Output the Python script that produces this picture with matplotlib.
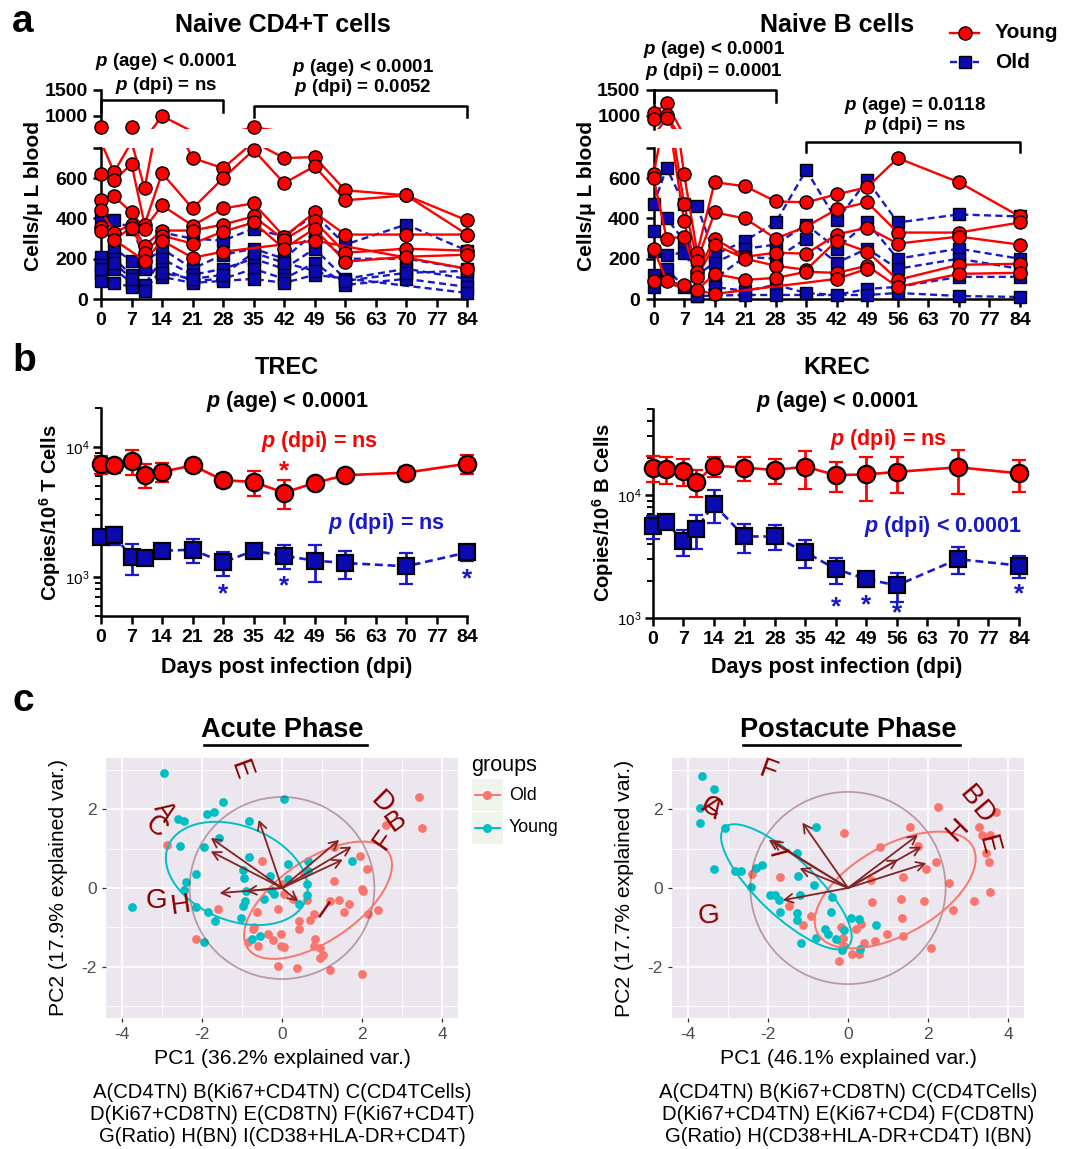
import numpy as np
import matplotlib.pyplot as plt
from matplotlib.patches import Ellipse, Rectangle
from matplotlib.lines import Line2D
from matplotlib.transforms import blended_transform_factory

plt.rcParams['font.family'] = ['Liberation Sans', 'DejaVu Sans']
plt.rcParams['mathtext.fontset'] = 'custom'
plt.rcParams['mathtext.rm'] = 'Liberation Sans'
plt.rcParams['mathtext.it'] = 'Liberation Sans:italic'
plt.rcParams['mathtext.bf'] = 'Liberation Sans:bold'
plt.rcParams['mathtext.bfit'] = 'Liberation Sans:italic:bold'
plt.rcParams['axes.unicode_minus'] = False

nan = np.nan
days = [0, 3, 7, 10, 14, 21, 28, 35, 42, 49, 56, 70, 84]
day_ticks = list(range(0, 85, 7))

# panel a: individual animals (cells/uL blood)
cd4_young = [
    [780, 630, 780, 550, 1000, 700, 650, 780, 700, 705, 540, 515, 390],
    [620, 590, 670, 370, 625, 450, 600, 740, 575, 660, 490, 515, 320],
    [490, 510, 430, 350, 465, 365, 450, 475, 310, 430, 320, 320, 320],
    [440, 330, 370, 265, 340, 340, 370, 410, 295, 385, 230, 250, 240],
    [360, 295, 355, 230, 315, 275, 335, 380, 250, 350, 185, 210, 220],
    [340, nan, nan, 190, 290, 205, 235, nan, nan, 290, nan, nan, 150],
]
cd4_old = [
    [400, 390, 350, 210, 330, 300, 290, 350, 310, 420, 270, 370, 240],
    [210, 250, 190, 180, 250, 150, 220, 250, 200, 330, 200, 200, 150],
    [170, 200, 120, 70, 200, 120, 150, 200, 150, 250, 100, 150, 100],
    [130, 150, 80, 40, 150, 90, 100, 150, 100, 180, 70, 100, 60],
    [90, 80, 60, nan, 110, 80, 90, 100, 80, 120, nan, nan, 30],
    [150, 180, 100, 150, 130, 100, 120, 230, 180, 140, 90, 130, 140],
]
b_young = [
    [1050, 1250, 620, 230, 580, 560, 485, 480, 520, 555, 700, 580, 410],
    [950, 1020, 470, 190, 430, 400, 300, 360, 445, 480, 330, 330, 380],
    [620, 960, 385, 135, 300, 210, 230, 225, 320, 355, 275, 310, 270],
    [600, 300, 310, 110, 270, 200, 165, 145, 290, 235, 95, 170, 175],
    [250, 90, 70, 45, 125, 95, 105, 135, 130, 165, 60, 125, 130],
    [90, nan, nan, nan, 25, nan, nan, nan, 100, 150, nan, nan, nan],
]
b_old = [
    [470, 650, 470, 460, 220, 290, 380, 640, 390, 590, 380, 420, 410],
    [340, 400, 290, 120, 180, 250, 270, 370, 250, 380, 200, 250, 200],
    [240, 220, 230, 120, 100, 210, 200, 300, 180, 250, 150, 200, 150],
    [120, 150, 60, 15, 60, 40, 70, 30, 20, 50, 60, 110, 110],
    [60, 100, nan, 15, nan, 20, 20, nan, nan, 20, 30, 15, 10],
]

# panel b: means and SEM (copies / 10^6 cells)
trec_young = [7360, 7230, 7770, 6140, 6440, 7230, 5560, 5390, 4450, 5300, 6070, 6360, 7450]
trec_young_err = [1200, 900, 1700, 1300, 1100, 300, 600, 1200, 1100, 300, 300, 700, 1300]
trec_old = [2015, 2085, 1420, 1405, 1590, 1620, 1295, 1590, 1455, 1335, 1280, 1207, 1545]
trec_old_err = [150, 320, 380, 100, 120, 330, 270, 120, 300, 420, 310, 330, 230]
krec_young = [16700, 16250, 15750, 12800, 17300, 16700, 15950, 17000, 14500, 14700, 15400, 16800, 15000]
krec_young_err = [4000, 4000, 4000, 3200, 3200, 3800, 3700, 5800, 4000, 5800, 5100, 6600, 4400]
krec_old = [5610, 6080, 4190, 5270, 8400, 4600, 4600, 3430, 2500, 2070, 1840, 3010, 2670]
krec_old_err = [1200, 800, 1000, 1600, 2500, 1200, 1050, 870, 600, 300, 500, 750, 540]
trec_star_young = ([42], [6540])
trec_star_old = ([28, 42, 84], [740, 840, 950])
krec_star_old = ([42, 49, 56, 84], [1230, 1270, 1100, 1570])

# panel c: PCA scores
acute_young_x = [-2.94, 0.06, -1.47, -1.71, -1.87, -2.59, -2.45, -0.82, -1.57, -2.54, -1.94, -0.83, 0.16,
                 0.64, 1.74, -0.98, -2.14, -0.94, -0.31, 0.16, 0.64, -2.41, -2.45, 0.62, -0.27, -0.20, -0.89,
                 0.62, -0.46, -0.92, -0.98, 0.43, -3.76, -2.16, -1.85, -1.03, -1.68, -0.76, -0.54, -1.96]
acute_young_y = [2.93, 2.25, 2.19, 1.94, 1.88, 1.75, 1.69, 1.71, 1.27, 1.07, 1.04, 0.78, 0.61,
                 0.68, 0.68, 0.46, 0.36, 0.25, 0.31, 0.23, 0.44, 0.14, -0.04, 0.10, -0.04, -0.14, -0.08,
                 -0.17, -0.27, -0.34, -0.45, -0.41, -0.49, -0.49, -0.61, -0.76, -0.84, -1.29, -1.21, -1.38]
acute_old_x = [3.43, 2.59, 3.51, -2.87, 1.29, 1.94, -0.49, 2.12, 0.54, 1.29, 0.00, 2.01, 2.03, 0.04, 0.27,
               0.62, 1.20, 1.43, 1.68, -1.61, -0.09, -0.62, 1.56, 2.39, 2.14, 0.79, 0.71, 0.42, -0.70, -0.73,
               0.42, -0.36, -0.02, -0.85, -0.61, -0.22, -0.02, 0.06, 0.83, 0.80, 0.96, 0.94, 1.03, -2.16,
               -0.11, 0.37, 1.20, 2.01]
acute_old_y = [2.32, 1.60, 1.53, 1.10, 1.05, 0.80, 0.68, 0.48, 0.35, 0.19, 0.10, -0.03, -0.08, -0.14, -0.28,
               -0.31, -0.32, -0.30, -0.41, -0.53, -0.53, -0.62, -0.62, -0.57, -0.65, -0.65, -0.80, -0.83,
               -0.99, -1.04, -1.05, -1.18, -1.18, -1.38, -1.46, -1.32, -1.46, -1.49, -1.29, -1.48, -1.52,
               -1.77, -1.69, -1.29, -1.97, -2.03, -2.07, -2.19]
post_young_x = [-3.65, -3.36, -3.69, -3.71, -3.07, -0.79, -3.36, -1.27, -2.15, -2.29, -2.83, -2.67, -1.25,
                -0.86, -2.43, -1.94, -1.83, -1.73, -1.21, -0.39, -1.69, -1.27, -1.27, -0.42, 0.08, 0.27,
                0.71, -0.58, -0.50, -0.11, -0.79, -0.29, -1.17, -0.14, 0.29]
post_young_y = [2.84, 2.51, 2.03, 1.66, 1.52, 1.54, 0.48, 0.89, 0.59, 0.51, 0.44, 0.42, 0.30,
                0.08, 0.03, -0.17, -0.19, -0.30, -0.17, -0.23, -0.62, -0.63, -0.82, -0.62, -0.76, -0.79,
                -0.95, -1.04, -1.16, -1.07, -1.27, -1.29, -1.39, -1.58, -1.54]
post_old_x = [2.25, 3.71, 1.54, 3.28, 3.36, 3.54, -0.10, 1.75, 0.79, 3.46, 1.94, 2.21, 3.53, -2.39, -1.69,
              1.38, 0.58, 2.53, 3.56, 1.33, 1.90, 0.60, 3.15, -1.48, 2.63, 1.35, -0.93, -1.13, 0.33, -0.17,
              0.19, -0.13, -0.17, 1.38, 0.98, 0.67, 0.39, -0.11, 0.11, 0.27, -0.23, 2.07]
post_old_y = [2.06, 1.92, 1.54, 1.54, 1.35, 1.35, 1.39, 1.07, 1.04, 0.90, 0.49, 0.65, 0.65, 0.35, 0.27,
              0.27, 0.21, 0.13, -0.10, -0.28, -0.34, -0.35, -0.34, -0.46, -0.56, -0.76, -0.70, -0.95,
              -0.91, -0.99, -1.05, -1.26, -1.35, -1.21, -1.18, -1.35, -1.39, -1.47, -1.68, -1.67, -1.85, -1.53]

# loadings (arrow ends), variable letters and where the letters sit
acute_vars = ['A', 'C', 'E', 'D', 'B', 'F', 'G', 'H', 'I']
acute_load_x = [-1.78, -1.78, -0.58, 1.43, 1.74, 1.52, -1.56, -0.89, 0.40]
acute_load_y = [1.27, 0.93, 1.73, 1.22, 1.05, 0.72, -0.13, -0.08, -0.34]
acute_lab_x = [-2.95, -3.15, -1.05, 2.50, 2.85, 2.54, -3.14, -2.54, 0.98]
acute_lab_y = [1.95, 1.55, 3.00, 2.15, 1.69, 1.22, -0.34, -0.45, -0.62]
acute_lab_rot = [-55, -40, -70, -45, 35, 55, 0, 8, -35]
post_vars = ['F', 'A', 'C', 'I', 'G', 'B', 'D', 'H', 'E']
post_load_x = [-1.14, -1.98, -1.90, -1.21, -1.63, 1.75, 1.83, 1.25, 1.96]
post_load_y = [1.66, 1.22, 1.20, 0.50, -0.31, 1.35, 1.05, 0.72, 0.63]
post_lab_x = [-2.00, -3.42, -3.42, -1.83, -3.48, 3.04, 3.37, 2.75, 3.50]
post_lab_y = [2.95, 2.02, 2.02, 0.85, -0.72, 2.32, 1.90, 1.48, 1.10]
post_lab_rot = [-20, -35, -30, -75, 5, -50, -50, 45, -75]
# ellipses: centre x, centre y, width, height, angle
acute_ell_young = (-1.13, 0.37, 3.7, 2.4, -22)
acute_ell_old = (0.90, -0.31, 4.28, 2.06, 35)
post_ell_young = (-1.54, 0.03, 4.32, 1.45, -44)
post_ell_old = (1.18, -0.05, 4.46, 2.25, 30)

W, H = 1075, 1149
fig = plt.figure(figsize=(W / 100, H / 100), dpi=100)

RED = '#FF0000'
BLUE_L = '#1818CC'
BLUE_F = '#0A0AB0'
PPD = 4.36


def rect(l, t, r, b):
    return [l / W, 1 - b / H, (r - l) / W, (b - t) / H]


def fy(y):
    return 1 - y / H


def ptext(line):
    return r'$\mathbfit{p}$ ' + line


def style_gp(ax, xt=True):
    ax.spines['top'].set_visible(False)
    ax.spines['right'].set_visible(False)
    ax.spines['left'].set_position(('data', 0))
    ax.spines['left'].set_linewidth(1.8)
    ax.spines['bottom'].set_linewidth(1.8)
    ax.tick_params(direction='out', length=6, width=1.8, labelsize=14)
    if xt:
        ax.spines['bottom'].set_bounds(0, 84)
        ax.set_xticks(day_ticks, [str(d) for d in day_ticks], fontweight='bold', fontsize=14)
    else:
        ax.spines['bottom'].set_visible(False)
        ax.set_xticks([])


def naive_panel(x0, young, old, title, title_x, ylab_x, brackets):
    l, r = x0 - 2.5 * PPD, x0 + 86.5 * PPD
    hi = fig.add_axes(rect(l, 90, r, 129))
    lo = fig.add_axes(rect(l, 148, r, 299))
    for ax in (hi, lo):
        ax.set_xlim(-2.5, 86.5)
        ax.patch.set_alpha(0)
    hi.set_ylim(750, 1500)
    lo.set_ylim(0, 750)
    d = np.array(days)
    groups = [(old, BLUE_L, (0, (3, 1.8)), 's', BLUE_F, 8.5, 2),
              (young, RED, '-', 'o', RED, 9.5, 4)]
    for series, col, ls, mk, fc, ms, z in groups:
        for vals in series:
            v = np.array(vals, float)
            m = ~np.isnan(v)
            x, y = d[m], v[m]
            for ax in (hi, lo):
                ax.plot(x, y, color=col, lw=1.7, ls=ls, zorder=z)
            low = y <= 750
            lo.plot(x[low], y[low], ls='none', marker=mk, ms=ms, mfc=fc, mec='black',
                    mew=1.0, clip_on=False, zorder=z + 1)
            hi.plot(x[~low], y[~low], ls='none', marker=mk, ms=ms, mfc=fc, mec='black',
                    mew=1.0, clip_on=False, zorder=z + 1)
    style_gp(lo)
    style_gp(hi, xt=False)
    lo.set_yticks([0, 200, 400, 600, 750], ['0', '200', '400', '600', ''],
                  fontweight='bold', fontsize=14)
    hi.set_yticks([1000, 1500], ['1000', '1500'], fontweight='bold', fontsize=14)
    fig.text(title_x / W, fy(25), title, ha='center', va='center', fontsize=18, weight='bold')
    fig.text(ylab_x / W, fy(196), 'Cells/μ L blood', rotation=90, ha='center', va='center',
             fontsize=15, weight='bold')
    tr = blended_transform_factory(lo.transData, fig.transFigure)
    for x1, x2, ytop, ybot, tx, ty1, ty2, s1, s2 in brackets:
        fig.add_artist(Line2D([x1, x1, x2, x2], [fy(ybot), fy(ytop), fy(ytop), fy(ybot)],
                              transform=tr, color='black', lw=1.8))
        fig.text(tx, fy(ty1), ptext(s1), transform=tr, ha='center', va='center',
                 fontsize=13.5, weight='bold')
        fig.text(tx, fy(ty2), ptext(s2), transform=tr, ha='center', va='center',
                 fontsize=13.5, weight='bold')
    return lo


naive_panel(101, cd4_young, cd4_old, 'Naive CD4+T cells', 283, 34,
            [(0, 28, 100, 112, 15, 62, 85, '(age) < 0.0001', '(dpi) = ns'),
             (35, 84, 106, 117, 60, 67, 88, '(age) < 0.0001', '(dpi) = 0.0052')])
naive_panel(653.6, b_young, b_old, 'Naive B cells', 837, 587,
            [(0, 28, 90, 102, 13.8, 50, 72, '(age) < 0.0001', '(dpi) = 0.0001'),
             (35, 84, 142, 152, 60, 105, 126, '(age) = 0.0118', '(dpi) = ns')])

# legend of panel a
fig.add_artist(Line2D([950 / W, 979 / W], [fy(33)] * 2, color=RED, lw=1.7))
fig.add_artist(Line2D([964.5 / W], [fy(33)], marker='o', ms=9.5, mfc=RED, mec='black', mew=1.0))
fig.add_artist(Line2D([950 / W, 979 / W], [fy(62)] * 2, color=BLUE_L, lw=1.7, ls=(0, (3, 1.8))))
fig.add_artist(Line2D([964.5 / W], [fy(62)], marker='s', ms=8.5, mfc=BLUE_F, mec='black', mew=1.0))
fig.text(995 / W, fy(33), 'Young', ha='left', va='center', fontsize=15, weight='bold')
fig.text(995 / W, fy(62), 'Old', ha='left', va='center', fontsize=15, weight='bold')


def rec_panel(x0, top, bottom, ylim, young, yerr, old, oerr, stars_y, stars_o,
              title, cx, ylab, ylab_x, red_pos, red_s, blue_pos, blue_s):
    ax = fig.add_axes(rect(x0 - 2.5 * PPD, top, x0 + 86.5 * PPD, bottom))
    ax.patch.set_alpha(0)
    ax.set_yscale('log')
    ax.set_ylim(ylim)
    ax.set_xlim(-2.5, 86.5)
    ax.errorbar(days, old, yerr=oerr, color=BLUE_L, ls=(0, (3, 1.8)), lw=1.9, marker='s', ms=11,
                mfc=BLUE_F, mec='black', mew=1.6, ecolor=BLUE_L, elinewidth=2, capsize=5,
                capthick=2, zorder=3)
    ax.errorbar(days, young, yerr=yerr, color=RED, ls='-', lw=1.9, marker='o', ms=12.5,
                mfc=RED, mec='black', mew=1.6, ecolor=RED, elinewidth=2, capsize=5,
                capthick=2, zorder=4)
    style_gp(ax)
    ax.set_yticks([1e3, 1e4], [r'$\mathregular{10^3}$', r'$\mathregular{10^4}$'], fontsize=11)
    ax.tick_params(axis='y', which='minor', length=4, width=1.4)
    ax.tick_params(axis='y', which='major', pad=2)
    for sx, sy in zip(*stars_y):
        ax.text(sx, sy, '*', color=RED, ha='center', va='center', fontsize=19, weight='bold')
    for sx, sy in zip(*stars_o):
        ax.text(sx, sy, '*', color=BLUE_L, ha='center', va='center', fontsize=19, weight='bold')
    ax.text(red_pos[0], red_pos[1], ptext(red_s), color=RED, ha='center', va='center',
            fontsize=15.5, weight='bold')
    ax.text(blue_pos[0], blue_pos[1], ptext(blue_s), color=BLUE_L, ha='center', va='center',
            fontsize=15.5, weight='bold')
    fig.text(cx / W, fy(367), title, ha='center', va='center', fontsize=17, weight='bold')
    fig.text(cx / W, fy(401), ptext('(age) < 0.0001'), ha='center', va='center',
             fontsize=15.5, weight='bold')
    fig.text(cx / W, fy(668), 'Days post infection (dpi)', ha='center', va='center',
             fontsize=15.5, weight='bold')
    fig.text(ylab_x / W, fy(513), ylab, rotation=90, ha='center', va='center',
             fontsize=14.5, weight='bold')


rec_panel(101, 408, 616, (500, 20000), trec_young, trec_young_err, trec_old, trec_old_err,
          trec_star_young, trec_star_old, 'TREC', 287, r'Copies/10$^{\mathbf{6}}$ T Cells', 50,
          (50, 11100), '(dpi) = ns', (65.4, 2600), '(dpi) = ns')
rec_panel(652.7, 409, 618, (1000, 50000), krec_young, krec_young_err, krec_old, krec_old_err,
          ([], []), krec_star_old, 'KREC', 837, r'Copies/10$^{\mathbf{6}}$ B Cells', 603,
          (54, 28500), '(dpi) = ns', (66.5, 5500), '(dpi) < 0.0001')

SALMON = '#F8766D'
TEAL = '#00BFC4'


def pca_panel(l, r, ox, oy, yx, yy, names, lx, ly, tx, ty, trot, ell_o, ell_y, radius,
              title, ul, ur, xlab, ylab, ylab_x, notes):
    ax = fig.add_axes(rect(l, 758, r, 1018))
    ax.set_facecolor('#ECE6EE')
    ax.set_xlim(-4.4, 4.4)
    ax.set_ylim(-3.3, 3.3)
    for s in ax.spines.values():
        s.set_visible(False)
    ax.set_xticks([-4, -2, 0, 2, 4])
    ax.set_yticks([-2, 0, 2])
    ax.set_xticks([-3, -1, 1, 3], minor=True)
    ax.set_yticks([-3, -1, 1, 3], minor=True)
    ax.grid(which='major', color='white', lw=1.2)
    ax.grid(which='minor', color='white', lw=0.6)
    ax.set_axisbelow(True)
    ax.tick_params(which='major', length=3, width=0.9, color='#333333', labelsize=12.5,
                   labelcolor='#4D4D4D')
    ax.tick_params(which='minor', length=0)
    ax.scatter(ox, oy, s=40, color=SALMON, lw=0, zorder=3)
    ax.scatter(yx, yy, s=40, color=TEAL, lw=0, zorder=3)
    ax.add_patch(Ellipse((0, 0), 2 * radius, 2 * radius, fill=False, ec='#7A3E48', alpha=0.45,
                         lw=1.3, zorder=3.5))
    for (cx, cy, w, h, a), col in [(ell_o, SALMON), (ell_y, TEAL)]:
        ax.add_patch(Ellipse((cx, cy), w, h, angle=a, fill=False, ec=col, lw=1.4, zorder=4))
    for x, y in zip(lx, ly):
        ax.annotate('', xy=(x, y), xytext=(0, 0), zorder=5,
                    arrowprops=dict(arrowstyle='->,head_length=0.6,head_width=0.32',
                                    color='#832424', lw=1.3, shrinkA=0, shrinkB=0))
    for n, x, y, rt in zip(names, tx, ty, trot):
        ax.text(x, y, n, rotation=rt, rotation_mode='anchor', ha='center', va='center',
                color='#8B0000', fontsize=20, zorder=6)
    cxp = (l + r) / 2
    fig.text(cxp / W, fy(730), title, ha='center', va='center', fontsize=19.5, weight='bold')
    fig.add_artist(Line2D([ul / W, ur / W], [fy(745)] * 2, color='black', lw=1.9))
    fig.text(cxp / W, fy(1059), xlab, ha='center', va='center', fontsize=15.2)
    fig.text(ylab_x / W, fy(888), ylab, rotation=90, ha='center', va='center', fontsize=15.2)
    for i, line in enumerate(notes):
        fig.text(cxp / W, fy(1092 + 22.5 * i), line, ha='center', va='center', fontsize=14.6)


pca_panel(106, 458, acute_old_x, acute_old_y, acute_young_x, acute_young_y,
          acute_vars, acute_load_x, acute_load_y, acute_lab_x, acute_lab_y, acute_lab_rot,
          acute_ell_old, acute_ell_young, 2.31, 'Acute Phase', 204, 367,
          'PC1 (36.2% explained var.)', 'PC2 (17.9% explained var.)', 58,
          ['A(CD4TN) B(Ki67+CD4TN) C(CD4TCells)',
           'D(Ki67+CD8TN) E(CD8TN) F(Ki67+CD4T)',
           'G(Ratio) H(BN) I(CD38+HLA-DR+CD4T)'])
pca_panel(672, 1024, post_old_x, post_old_y, post_young_x, post_young_y,
          post_vars, post_load_x, post_load_y, post_lab_x, post_lab_y, post_lab_rot,
          post_ell_old, post_ell_young, 2.44, 'Postacute Phase', 743, 960,
          'PC1 (46.1% explained var.)', 'PC2 (17.7% explained var.)', 624,
          ['A(CD4TN) B(Ki67+CD8TN) C(CD4TCells)',
           'D(Ki67+CD4TN) E(Ki67+CD4) F(CD8TN)',
           'G(Ratio) H(CD38+HLA-DR+CD4T) I(BN)'])

# ggplot legend of panel c
fig.text(471 / W, fy(765), 'groups', ha='left', va='center', fontsize=15.5)
for yc, col, lab in [(795, SALMON, 'Old'), (828, TEAL, 'Young')]:
    fig.add_artist(Rectangle((472 / W, fy(yc + 16)), 31 / W, 32 / H, transform=fig.transFigure,
                             fc='#EEF3EC', ec='none'))
    fig.add_artist(Line2D([475 / W, 500 / W], [fy(yc)] * 2, color=col, lw=1.4))
    fig.add_artist(Line2D([487.5 / W], [fy(yc)], marker='o', ms=6.5, color=col, mec='none'))
    fig.text(509 / W, fy(yc), lab, ha='left', va='center', fontsize=12.8)

# panel letters
fig.text(12 / W, fy(22), 'a', ha='left', va='center', fontsize=28, weight='bold')
fig.text(12 / W, fy(361), 'b', ha='left', va='center', fontsize=28, weight='bold')
fig.text(12 / W, fy(701), 'c', ha='left', va='center', fontsize=28, weight='bold')

fig.savefig('out.png', dpi=100)
